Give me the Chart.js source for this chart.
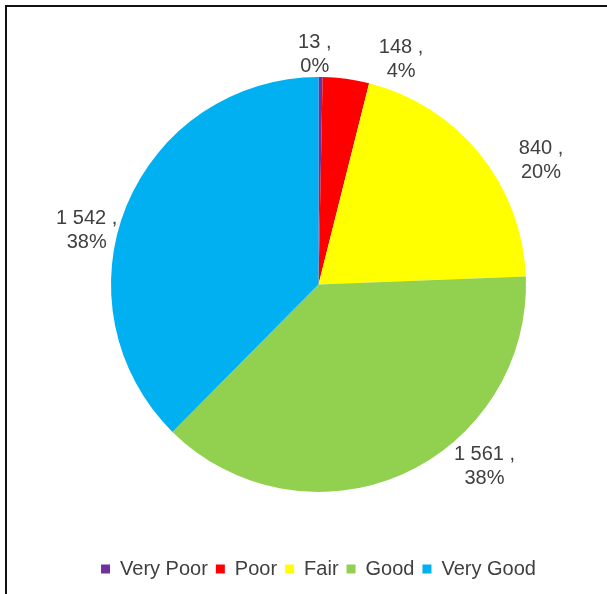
<!DOCTYPE html>
<html>
<head>
<meta charset="utf-8">
<script src="https://cdn.jsdelivr.net/npm/chart.js@4/dist/chart.umd.min.js"></script>
<style>
  html, body { margin: 0; padding: 0; background: #fff; overflow: hidden; }
  canvas { display: block; }
</style>
</head>
<body>
<canvas id="myChart" width="607" height="594"></canvas>
<script>
var categories = ["Very Poor", "Poor", "Fair", "Good", "Very Good"];
var counts = [13, 148, 840, 1561, 1542];
var colors = ["#7030A0", "#FF0000", "#FFFF00", "#92D050", "#00B0F0"];

// where each label sits: angle nudge (deg) from slice middle, gap past the rim (px)
var labelNudge = [-1.5, 12.5, 10, -18.7, -9.3];
var labelGap = [23, 32.5, 47, 38.5, 30.5];

var textColor = "#404040";
var fontFamily = "'Liberation Sans', Arial, sans-serif";

function fmt(v) {
  return String(v).replace(/\B(?=(\d{3})+(?!\d))/g, " ");
}

var total = counts.reduce(function (a, b) { return a + b; }, 0);

var framePlugin = {
  id: "frame",
  beforeDraw: function (chart) {
    var c = chart.ctx;
    c.save();
    c.fillStyle = "#fff";
    c.fillRect(0, 0, chart.width, chart.height);
    c.strokeStyle = "#111";
    c.lineWidth = 2;
    c.strokeRect(6, 6, chart.width + 20, chart.height + 20);
    c.restore();
  }
};

var labelPlugin = {
  id: "outsideLabels",
  afterDatasetsDraw: function (chart) {
    var c = chart.ctx;
    var arcs = chart.getDatasetMeta(0).data;
    c.save();
    c.font = "20px " + fontFamily;
    c.fillStyle = textColor;
    c.textAlign = "center";
    c.textBaseline = "middle";
    arcs.forEach(function (arc, i) {
      var p = arc.getProps(["x", "y", "startAngle", "endAngle", "outerRadius"], true);
      var mid = (p.startAngle + p.endAngle) / 2 + labelNudge[i] * Math.PI / 180;
      var d = p.outerRadius + labelGap[i];
      var x = p.x + Math.cos(mid) * d;
      var y = p.y + Math.sin(mid) * d;
      var pct = Math.round(counts[i] / total * 100) + "%";
      c.fillText(fmt(counts[i]) + " ,", x, y - 12);
      c.fillText(pct, x, y + 12);
    });
    c.restore();
  }
};

var ctx = document.getElementById("myChart");

var pieChart = new Chart(ctx, {
  type: "pie",
  data: {
    labels: categories,
    datasets: [{
      data: counts,
      backgroundColor: colors,
      borderWidth: 0,
      radius: 207.5
    }]
  },
  options: {
    responsive: false,
    animation: false,
    layout: {
      padding: { top: 18, bottom: 5, left: 30, right: 0 }
    },
    plugins: {
      tooltip: { enabled: false },
      legend: {
        position: "bottom",
        labels: {
          boxWidth: 9,
          boxHeight: 9,
          padding: 8,
          color: textColor,
          font: { size: 20, family: fontFamily }
        }
      }
    }
  },
  plugins: [framePlugin, labelPlugin]
});
</script>
</body>
</html>
